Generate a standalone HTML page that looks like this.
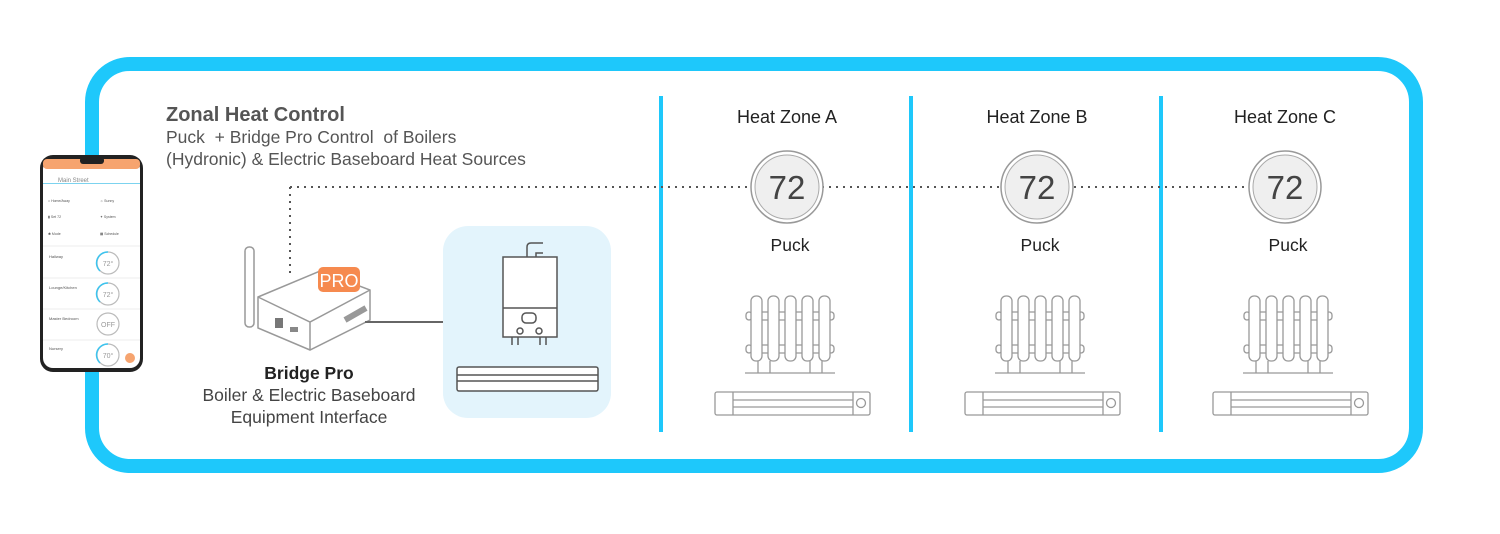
<!DOCTYPE html>
<html><head><meta charset="utf-8"><style>
html,body{margin:0;padding:0;background:#fff;}
svg{display:block;font-family:"Liberation Sans",sans-serif;}
</style></head><body>
<svg width="1500" height="534" viewBox="0 0 1500 534" xmlns="http://www.w3.org/2000/svg">
<rect x="92" y="64" width="1324" height="402" rx="38" fill="#fff" stroke="#1ec8fb" stroke-width="14"/>
<g fill="#1ec8fb"><rect x="659" y="96" width="4" height="336"/><rect x="909" y="96" width="4" height="336"/><rect x="1159" y="96" width="4" height="336"/></g>
<text x="166" y="121" font-size="20" font-weight="bold" fill="#555">Zonal Heat Control</text>
<text x="166" y="143" font-size="17.5" fill="#555" xml:space="preserve">Puck  + Bridge Pro Control  of Boilers</text>
<text x="166" y="165" font-size="17.5" fill="#555">(Hydronic) &amp; Electric Baseboard Heat Sources</text>
<!-- dotted -->
<path d="M290 187 H1250 M290 187 V276" stroke="#555" stroke-width="2" stroke-dasharray="2 5" fill="none"/>
<!-- phone -->
<rect x="40" y="155" width="103" height="217" rx="13" fill="#222"/>
<rect x="43" y="159" width="97" height="209" rx="10" fill="#fff"/>
<rect x="43" y="159" width="97" height="10" rx="4" fill="#f6a46f"/>
<rect x="80" y="157" width="24" height="7" rx="3" fill="#222"/>
<rect x="43" y="183" width="97" height="1" fill="#7cd3ef"/>
<text x="58" y="182" font-size="6" fill="#888">Main Street</text>
<g fill="#555" font-size="3.5"><text x="48" y="202">⌂ Home/Away</text><text x="100" y="202">☼ Sunny</text><text x="48" y="218">▮ Set 72</text><text x="100" y="218">✦ System</text><text x="48" y="235">✱ Mode</text><text x="100" y="235">▦ Schedule</text></g>
<g stroke="#eee" stroke-width="1"><path d="M43 246 H140 M43 278 H140 M43 309 H140 M43 340 H140"/></g>
<g font-size="4" fill="#555"><text x="49" y="258">Hallway</text><text x="49" y="289">Lounge/Kitchen</text><text x="49" y="320">Master Bedroom</text><text x="49" y="350">Nursery</text></g>
<g fill="none" stroke="#bbb" stroke-width="1.2"><circle cx="108" cy="263" r="11"/><circle cx="108" cy="294" r="11"/><circle cx="108" cy="324" r="11"/><circle cx="108" cy="355" r="11"/></g>
<g fill="none" stroke="#3cc4ef" stroke-width="1.5"><path d="M100 271 A11 11 0 0 1 108 252"/><path d="M100 302 A11 11 0 0 1 108 283"/><path d="M100 363 A11 11 0 0 1 108 344"/></g>
<g font-size="7" fill="#999" text-anchor="middle"><text x="108" y="266">72°</text><text x="108" y="297">72°</text><text x="108" y="327">OFF</text><text x="108" y="358">70°</text></g>
<circle cx="130" cy="358" r="5" fill="#f6a46f"/>
<!-- bridge -->
<rect x="245" y="247" width="9" height="80" rx="4" fill="#fff" stroke="#999" stroke-width="1.5"/>
<path d="M258 297 L320 271 L370 290 L370 320 L310 350 L258 328 Z" fill="#fff" stroke="#999" stroke-width="1.5"/>
<path d="M258 297 L310 322 L370 290 M310 322 V350" fill="none" stroke="#999" stroke-width="1.5"/>
<rect x="275" y="318" width="8" height="10" fill="#777"/><rect x="290" y="327" width="8" height="5" fill="#888"/>
<path d="M345 320 L366 308" stroke="#999" stroke-width="6"/>
<rect x="318" y="267" width="42" height="25" rx="5" fill="#f68a4f"/>
<text x="339" y="287" font-size="18" fill="#fff" text-anchor="middle">PRO</text>
<path d="M365 322 H443" stroke="#666" stroke-width="2"/>
<text x="309" y="379" font-size="17.5" font-weight="bold" fill="#222" text-anchor="middle">Bridge Pro</text>
<text x="309" y="401" font-size="17.5" fill="#444" text-anchor="middle">Boiler &amp; Electric Baseboard</text>
<text x="309" y="423" font-size="17.5" fill="#444" text-anchor="middle">Equipment Interface</text>
<!-- boiler panel -->
<rect x="443" y="226" width="168" height="192" rx="25" fill="#e3f4fc"/>
<g fill="none" stroke="#555" stroke-width="1.5">
<path d="M527 257 V247 Q527 243 531 243 H543 M536 257 V253 H543"/>
<rect x="503" y="257" width="54" height="80" fill="#fff"/>
<path d="M503 308 H557"/>
<rect x="522" y="313" width="14" height="10" rx="4"/>
<circle cx="520" cy="331" r="3"/><circle cx="539" cy="331" r="3"/>
<path d="M512 337 v8 M518 337 v8 M540 337 v8 M546 337 v8"/>
<rect x="457" y="367" width="141" height="24" rx="2" fill="#fff"/>
<path d="M457 375 H598 M457 381 H598"/>
</g>
<!-- zones -->
<g id="z">
<circle cx="787" cy="187" r="36" fill="#fff" stroke="#999" stroke-width="1.5"/>
<circle cx="787" cy="187" r="32" fill="#efefef" stroke="#aaa" stroke-width="1"/>
<text x="787" y="199" font-size="33" fill="#444" text-anchor="middle">72</text>
<text x="790" y="251" font-size="17.5" fill="#222" text-anchor="middle">Puck</text>
<g fill="#fff" stroke="#999" stroke-width="1.3">
<rect x="746" y="312" width="6" height="8" rx="3"/><rect x="746" y="345" width="6" height="8" rx="3"/>
<rect x="828" y="312" width="6" height="8" rx="3"/><rect x="828" y="345" width="6" height="8" rx="3"/>
<path d="M751 312 H829 M751 320 H829 M751 345 H829 M751 353 H829"/>
<rect x="751" y="296" width="11" height="65" rx="5"/><rect x="768" y="296" width="11" height="65" rx="5"/><rect x="785" y="296" width="11" height="65" rx="5"/><rect x="802" y="296" width="11" height="65" rx="5"/><rect x="819" y="296" width="11" height="65" rx="5"/>
<path d="M758 361 v12 M770 361 v12 M810 361 v12 M822 361 v12 M745 373 H835"/>
<rect x="715" y="392" width="155" height="23" rx="2"/>
<path d="M733 392 v23 M853 392 v23 M733 400 H853 M733 407 H853"/>
<circle cx="861" cy="403" r="4.5"/>
</g>
</g>
<use href="#z" x="250"/>
<use href="#z" x="498"/>
<text x="787" y="123" font-size="18" fill="#222" text-anchor="middle">Heat Zone A</text>
<text x="1037" y="123" font-size="18" fill="#222" text-anchor="middle">Heat Zone B</text>
<text x="1285" y="123" font-size="18" fill="#222" text-anchor="middle">Heat Zone C</text>
</svg>
</body></html>
